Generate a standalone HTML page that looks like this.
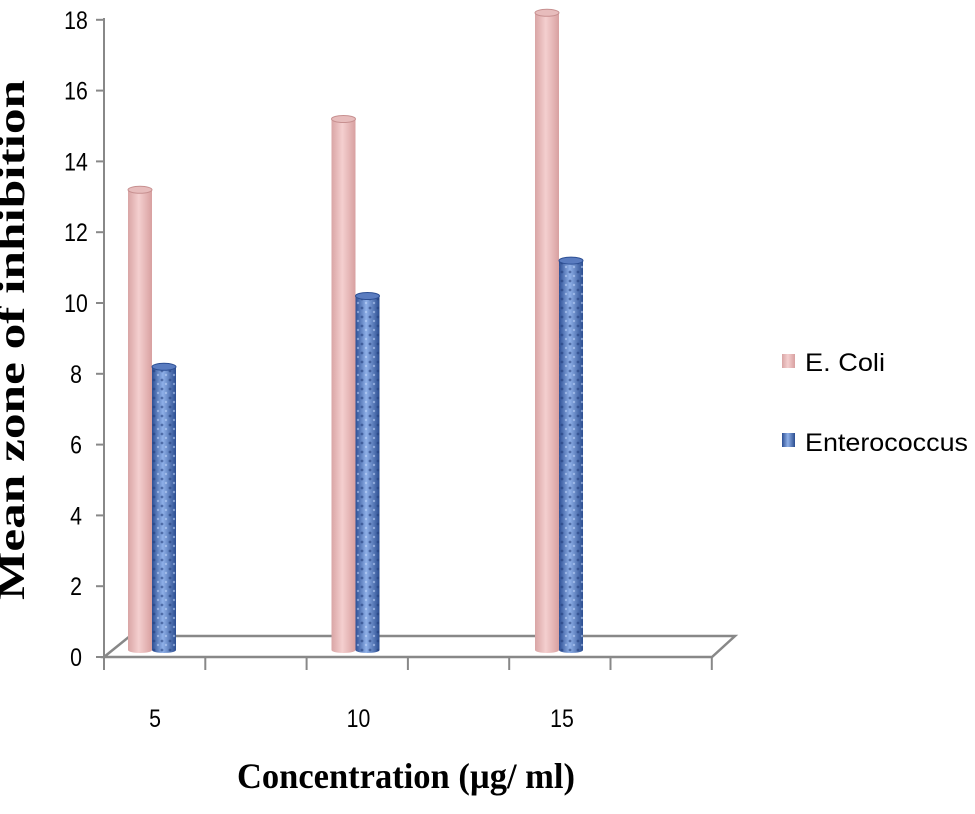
<!DOCTYPE html>
<html><head><meta charset="utf-8"><style>
body{margin:0;background:#fff;}
svg{display:block;font-family:"Liberation Sans",sans-serif;}
</style></head><body>
<svg width="975" height="814" viewBox="0 0 975 814">
<defs>
<linearGradient id="pinkG" x1="0" x2="1">
<stop offset="0" stop-color="#d9a5a5"/><stop offset="0.45" stop-color="#f4cfcf"/><stop offset="1" stop-color="#d8a0a0"/>
</linearGradient>
<linearGradient id="blueG" x1="0" x2="1">
<stop offset="0" stop-color="#2d4f94"/><stop offset="0.45" stop-color="#8fb0e8"/><stop offset="1" stop-color="#2b4d90"/>
</linearGradient>
<pattern id="blueTex" width="8" height="9" patternUnits="userSpaceOnUse">
<rect width="8" height="9" fill="none"/>
<circle cx="2" cy="2" r="1.4" fill="#1e3a78" opacity="0.55"/>
<circle cx="6" cy="6" r="1.2" fill="#c8dcff" opacity="0.5"/>
</pattern>
</defs>
<g id="axes"></g>
<g id="bars"></g>
<text x="24" y="340" transform="rotate(-90 24 340)" text-anchor="middle" font-family="Liberation Serif,serif" font-weight="bold" font-size="38" textLength="520" lengthAdjust="spacingAndGlyphs">Mean zone of inhibition</text>
<text x="406" y="788" text-anchor="middle" font-family="Liberation Serif,serif" font-weight="bold" font-size="36" textLength="338" lengthAdjust="spacingAndGlyphs">Concentration (µg/ ml)</text>
<g>
<rect x="782" y="354" width="13" height="14" fill="url(#pinkG)"/>
<text x="805" y="371" font-size="25" textLength="80" lengthAdjust="spacingAndGlyphs">E. Coli</text>
<rect x="782" y="433" width="13" height="14" fill="url(#blueG)"/>
<text x="805" y="451" font-size="25" textLength="163" lengthAdjust="spacingAndGlyphs">Enterococcus</text>
</g>
</svg>
<script>
const categories=["5","10","15"];
const ecoli=[13,15,18];
const entero=[8,10,11];
const yTicks=[0,2,4,6,8,10,12,14,16,18];
const NS="http://www.w3.org/2000/svg";
const axes=document.getElementById('axes'),bars=document.getElementById('bars');
function mk(p,tag,a){const e=document.createElementNS(NS,tag);for(const k in a)e.setAttribute(k,a[k]);p.appendChild(e);return e;}
function yAxis(v){return 657-v*35.4;}
function yBar(v){return 650-v*35.4;}
function xCat(i){return 128+i*203.5;}
let yl=mk(axes,'line',{x1:104,y1:18,x2:104,y2:657,stroke:'#888','stroke-width':2});

yTicks.forEach(t=>{
 const y=yAxis(t);
 const tk=mk(axes,'line',{x1:96,y1:y,x2:104,y2:y,stroke:'#888','stroke-width':2});
 
 const tx=mk(axes,'text',{x:76,y:y+9,'text-anchor':'middle','font-size':25,transform:`translate(76 0) scale(0.85 1) translate(-76 0)`});
 tx.textContent=t;
 
});
const fl=mk(axes,'path',{d:'M104 657 L130 636 L735 636 L712 657 Z',fill:'none',stroke:'#888','stroke-width':2.5});

for(let i=0;i<=6;i++){
 const x=104+i*101.3;
 const tk=mk(axes,'line',{x1:x,y1:657,x2:x,y2:670,stroke:'#888','stroke-width':2});
 
}
categories.forEach((c,i)=>{
 const cx=xCat(i)+27;
 const tx=mk(axes,'text',{x:cx,y:727,'text-anchor':'middle','font-size':25,transform:`translate(${cx} 0) scale(0.85 1) translate(${-cx} 0)`});
 tx.textContent=c;
 
});
function cyl(x,v,fill,tex,name){
 const g=mk(bars,'g',{});
 
 const top=yBar(v),w=24,b=650;
 mk(g,'path',{d:`M${x} ${top} L${x} ${b} A${w/2} 3 0 0 0 ${x+w} ${b} L${x+w} ${top} Z`,fill:fill});
 if(tex)mk(g,'path',{d:`M${x} ${top} L${x} ${b} A${w/2} 3 0 0 0 ${x+w} ${b} L${x+w} ${top} Z`,fill:'url(#blueTex)'});
 mk(g,'ellipse',{cx:x+w/2,cy:top,rx:w/2,ry:3.5,fill:tex?'#5a7cc0':'#e7bcbc',stroke:tex?'#2d4f94':'#c79090','stroke-width':1});
}
categories.forEach((c,i)=>{
 cyl(xCat(i),ecoli[i],'url(#pinkG)',false,'bar-ecoli-'+c);
 cyl(xCat(i)+24,entero[i],'url(#blueG)',true,'bar-enterococcus-'+c);
});
</script>
</body></html>
